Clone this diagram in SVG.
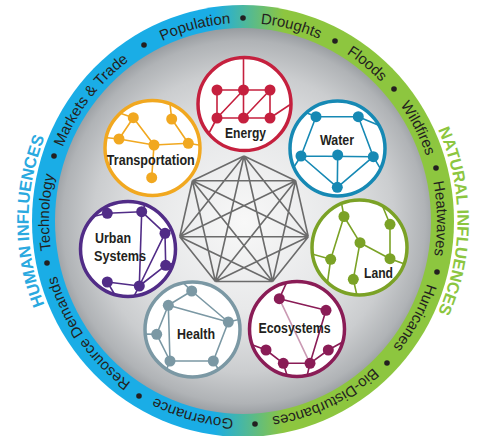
<svg xmlns="http://www.w3.org/2000/svg" width="480" height="436" viewBox="0 0 480 436">
<style>
.ring{font-family:"Liberation Sans",Arial,sans-serif;font-size:15px;fill:#231f20}
.infl{font-family:"Liberation Sans",Arial,sans-serif;font-size:16.5px;font-weight:bold}
.label{font-family:"Liberation Sans",Arial,sans-serif;font-size:14px;font-weight:bold;fill:#231f20;text-anchor:middle}
.ls{text-anchor:start}
.rim{fill:#fff;stroke-width:3.5}
.net{fill:none;stroke-width:1.6;stroke-linecap:round}
.dot{fill:#231f20}
</style>
<defs>
<linearGradient id="ringGrad" gradientUnits="userSpaceOnUse" x1="214" y1="0" x2="284" y2="0">
<stop offset="0" stop-color="#1aade6"/>
<stop offset="1" stop-color="#8dc63f"/>
</linearGradient>
<radialGradient id="diskGrad" gradientUnits="userSpaceOnUse" cx="244" cy="222" r="193">
<stop offset="0" stop-color="#f8f8f8"/>
<stop offset="0.45" stop-color="#e8e9ea"/>
<stop offset="0.78" stop-color="#cbcdcf"/>
<stop offset="0.94" stop-color="#b0b3b6"/>
<stop offset="1" stop-color="#9a9ea2"/>
</radialGradient>
<path id="ringPath" d="M243,23 A194,198 0 1,1 243,419 A194,198 0 1,1 243,23"/>
<path id="outerPath" d="M243,1.5 A214.5,219.5 0 1,1 243,440.5 A214.5,219.5 0 1,1 243,1.5"/>
<clipPath id="cEn"><circle cx="244.5" cy="104" r="46.5"/></clipPath>
<clipPath id="cTr"><circle cx="152.5" cy="148" r="47.5"/></clipPath>
<clipPath id="cWa"><circle cx="337.5" cy="148.5" r="47.5"/></clipPath>
<clipPath id="cLa"><circle cx="359.5" cy="247.5" r="47.5"/></clipPath>
<clipPath id="cEc"><circle cx="297" cy="329" r="47.5"/></clipPath>
<clipPath id="cHe"><circle cx="192.5" cy="329.5" r="47.5"/></clipPath>
<clipPath id="cUr"><circle cx="128" cy="249" r="47.5"/></clipPath>
</defs>
<rect width="480" height="436" fill="#fff"/>
<g id="ring">
<ellipse cx="243" cy="221" rx="211" ry="216" fill="url(#ringGrad)"/>
<ellipse cx="243" cy="221" rx="188" ry="193" fill="url(#diskGrad)"/>
<text class="ring"><textPath href="#ringPath" startOffset="96.1%" text-anchor="middle">Population</textPath></text>
<text class="ring"><textPath href="#ringPath" startOffset="3.9%" text-anchor="middle">Droughts</textPath></text>
<text class="ring"><textPath href="#ringPath" startOffset="10.7%" text-anchor="middle">Floods</textPath></text>
<text class="ring"><textPath href="#ringPath" startOffset="17.3%" text-anchor="middle">Wildfires</textPath></text>
<text class="ring"><textPath href="#ringPath" startOffset="24.8%" text-anchor="middle">Heatwaves</textPath></text>
<text class="ring"><textPath href="#ringPath" startOffset="33.1%" text-anchor="middle">Hurricanes</textPath></text>
<text class="ring"><textPath href="#ringPath" startOffset="43%" text-anchor="middle">Bio-Disturbances</textPath></text>
<text class="ring"><textPath href="#ringPath" startOffset="54.1%" text-anchor="middle">Governance</textPath></text>
<text class="ring"><textPath href="#ringPath" startOffset="65.1%" text-anchor="middle">Resource Demands</textPath></text>
<text class="ring"><textPath href="#ringPath" startOffset="75.7%" text-anchor="middle">Technology</textPath></text>
<text class="ring"><textPath href="#ringPath" startOffset="85.6%" text-anchor="middle">Markets &amp; Trade</textPath></text>
<g class="dot">
<circle cx="243" cy="18" r="2.8"/>
<circle cx="335" cy="41" r="2.8"/>
<circle cx="394" cy="89" r="2.8"/>
<circle cx="436" cy="168" r="2.8"/>
<circle cx="437" cy="272" r="2.8"/>
<circle cx="387" cy="363" r="2.8"/>
<circle cx="255" cy="424" r="2.8"/>
<circle cx="139" cy="396" r="2.8"/>
<circle cx="47" cy="263" r="2.8"/>
<circle cx="54" cy="156" r="2.8"/>
<circle cx="144" cy="45" r="2.8"/>
</g>
<text class="infl" fill="#2aa9df"><textPath href="#outerPath" startOffset="75%" text-anchor="middle">HUMAN INFLUENCES</textPath></text>
<text class="infl" fill="#8cc640"><textPath href="#outerPath" startOffset="25%" text-anchor="middle">NATURAL INFLUENCES</textPath></text>
</g>
<g id="connectors" fill="none" stroke="#6b6b6b" stroke-width="1.6">
<path d="M244,156L295.6,180.8M244,156L308.3,236.7M244,156L272.6,281.5M244,156L215.4,281.5M244,156L179.7,236.7M244,156L192.4,180.8M295.6,180.8L308.3,236.7M295.6,180.8L272.6,281.5M295.6,180.8L215.4,281.5M295.6,180.8L179.7,236.7M295.6,180.8L192.4,180.8M308.3,236.7L272.6,281.5M308.3,236.7L215.4,281.5M308.3,236.7L179.7,236.7M308.3,236.7L192.4,180.8M272.6,281.5L215.4,281.5M272.6,281.5L179.7,236.7M272.6,281.5L192.4,180.8M215.4,281.5L179.7,236.7M215.4,281.5L192.4,180.8M179.7,236.7L192.4,180.8"/>
</g>
<g id="energy">
<circle class="rim" cx="244.5" cy="104" r="46.5" stroke="#c5203e"/>
<path class="net" stroke="#c5203e" clip-path="url(#cEn)" d="M217,90H270M217,118H270M217,90V118M243.5,90V118M270,90V118M217,118L243.5,90M243.5,118L270,90M243.5,90V50M270,118L300,98M217,118L200,150"/>
<g fill="#c5203e"><circle cx="217" cy="90" r="5.5"/><circle cx="243.5" cy="90" r="5.5"/><circle cx="270" cy="90" r="5.5"/><circle cx="217" cy="118" r="5.5"/><circle cx="243.5" cy="118" r="5.5"/><circle cx="270" cy="118" r="5.5"/></g>
<text class="label" x="245.5" y="137.5" textLength="41" lengthAdjust="spacingAndGlyphs">Energy</text>
</g>
<g id="transportation">
<circle class="rim" cx="152.5" cy="148" r="47.5" stroke="#f1a820"/>
<path class="net" stroke="#f1a820" clip-path="url(#cTr)" d="M133.3,117.7L119,139M133.3,117.7L154,145M119,139L154,145M154,145L188.3,143.3M171.7,119L188.3,143.3M154,145L151.7,177.7M171.7,119L169,95M133.3,117.7L105,108M119,139L100,137M188.3,143.3L205,146"/>
<g fill="#f1a820"><circle cx="133.3" cy="117.7" r="5.5"/><circle cx="171.7" cy="119" r="5.5"/><circle cx="119" cy="139" r="5.5"/><circle cx="154" cy="145" r="5.5"/><circle cx="188.3" cy="143.3" r="5.5"/><circle cx="151.7" cy="177.7" r="5.5"/></g>
<text class="label" x="150.8" y="165" textLength="88" lengthAdjust="spacingAndGlyphs">Transportation</text>
</g>
<g id="water">
<circle class="rim" cx="337.5" cy="148.5" r="47.5" stroke="#1689b4"/>
<path class="net" stroke="#1689b4" clip-path="url(#cWa)" d="M316,116.7H358.3M316,116.7L301,156M358.3,116.7L373.3,156.7M301,156L373.3,156.7M337.7,155L337.3,187.3M301,156L337.3,187.3M373.3,156.7L337.3,187.3M316,116.7L295,108M358.3,116.7L395,132M373.3,156.7L390,185M301,156L292,170"/>
<g fill="#1689b4"><circle cx="316" cy="116.7" r="5.5"/><circle cx="358.3" cy="116.7" r="5.5"/><circle cx="301" cy="156" r="5.5"/><circle cx="337.7" cy="155" r="5.5"/><circle cx="373.3" cy="156.7" r="5.5"/><circle cx="337.3" cy="187.3" r="5.5"/></g>
<text class="label" x="337" y="145" textLength="34" lengthAdjust="spacingAndGlyphs">Water</text>
</g>
<g id="land">
<circle class="rim" cx="359.5" cy="247.5" r="47.5" stroke="#7ba226"/>
<path class="net" stroke="#7ba226" clip-path="url(#cLa)" d="M344,216.5L360,242.7M344,216.5L330.7,259.3M360,242.7L390,258.7M390,224.3V258.7M360,242.7L353.3,279.3M344,216.5L340,195M390,224.3L378,195M330.7,259.3L305,252M330.7,259.3L325,300M353.3,279.3L358,300M390,258.7L410,266"/>
<g fill="#7ba226"><circle cx="344" cy="216.5" r="5.5"/><circle cx="390" cy="224.3" r="5.5"/><circle cx="360" cy="242.7" r="5.5"/><circle cx="330.7" cy="259.3" r="5.5"/><circle cx="390" cy="258.7" r="5.5"/><circle cx="353.3" cy="279.3" r="5.5"/></g>
<text class="label" x="378.5" y="277.7" textLength="29" lengthAdjust="spacingAndGlyphs">Land</text>
</g>
<g id="ecosystems">
<circle class="rim" cx="297" cy="329" r="47.5" stroke="#8a1c56"/>
<path class="net" stroke="#8a1c56" clip-path="url(#cEc)" d="M279.3,298.7L326,310.3M326,310.3L310,363.3M266,350L283.3,363.3M283.3,363.3H310M310,363.3L328.3,350M279.3,298.7L290,275M328.3,350L350,338M266,350L245,342M283.3,363.3L290,385M310,363.3L305,385"/>
<path class="net" stroke="#8a1c56" stroke-opacity="0.45" d="M279.3,298.7L310,363.3"/>
<g fill="#8a1c56"><circle cx="279.3" cy="298.7" r="5.5"/><circle cx="326" cy="310.3" r="5.5"/><circle cx="266" cy="350" r="5.5"/><circle cx="283.3" cy="363.3" r="5.5"/><circle cx="310" cy="363.3" r="5.5"/><circle cx="328.3" cy="350" r="5.5"/></g>
<text class="label" x="294.5" y="333" textLength="72" lengthAdjust="spacingAndGlyphs">Ecosystems</text>
</g>
<g id="health">
<circle class="rim" cx="192.5" cy="329.5" r="47.5" stroke="#7b98a4"/>
<path class="net" stroke="#7b98a4" clip-path="url(#cHe)" d="M191.7,291L168.3,305.3M191.7,291L228.3,322M168.3,305.3L228.3,322M168.3,305.3L156.7,334.3M156.7,334.3L170,361M170,361H213.3M213.3,361L228.3,322M168.3,305.3L170,361M191.7,291L178,278M228.3,322L245,318M156.7,334.3L140,334M213.3,361L228,385M170,361L160,385"/>
<g fill="#7b98a4"><circle cx="191.7" cy="291" r="5.5"/><circle cx="168.3" cy="305.3" r="5.5"/><circle cx="228.3" cy="322" r="5.5"/><circle cx="156.7" cy="334.3" r="5.5"/><circle cx="170" cy="361" r="5.5"/><circle cx="213.3" cy="361" r="5.5"/></g>
<text class="label" x="196" y="339.3" textLength="38" lengthAdjust="spacingAndGlyphs">Health</text>
</g>
<g id="urban-systems">
<circle class="rim" cx="128" cy="249" r="47.5" stroke="#512c87"/>
<path class="net" stroke="#512c87" clip-path="url(#cUr)" d="M107.3,213.3L141.7,211.7M141.7,211.7L165,233.3M165,233.3L165.7,265.3M165.7,265.3L139.3,286M107.3,282L139.3,286M141.7,211.7L139.3,286M139.3,286L165,233.3M107.3,213.3L78,220M141.7,211.7L150,195M165,233.3L180,225M165.7,265.3L178,262M107.3,282L118,300M139.3,286L132,300"/>
<g fill="#512c87"><circle cx="107.3" cy="213.3" r="5.5"/><circle cx="141.7" cy="211.7" r="5.5"/><circle cx="165" cy="233.3" r="5.5"/><circle cx="165.7" cy="265.3" r="5.5"/><circle cx="107.3" cy="282" r="5.5"/><circle cx="139.3" cy="286" r="5.5"/></g>
<text class="label ls" x="95" y="242.7" textLength="36" lengthAdjust="spacingAndGlyphs">Urban</text>
<text class="label ls" x="94" y="261" textLength="52" lengthAdjust="spacingAndGlyphs">Systems</text>
</g>
</svg>
